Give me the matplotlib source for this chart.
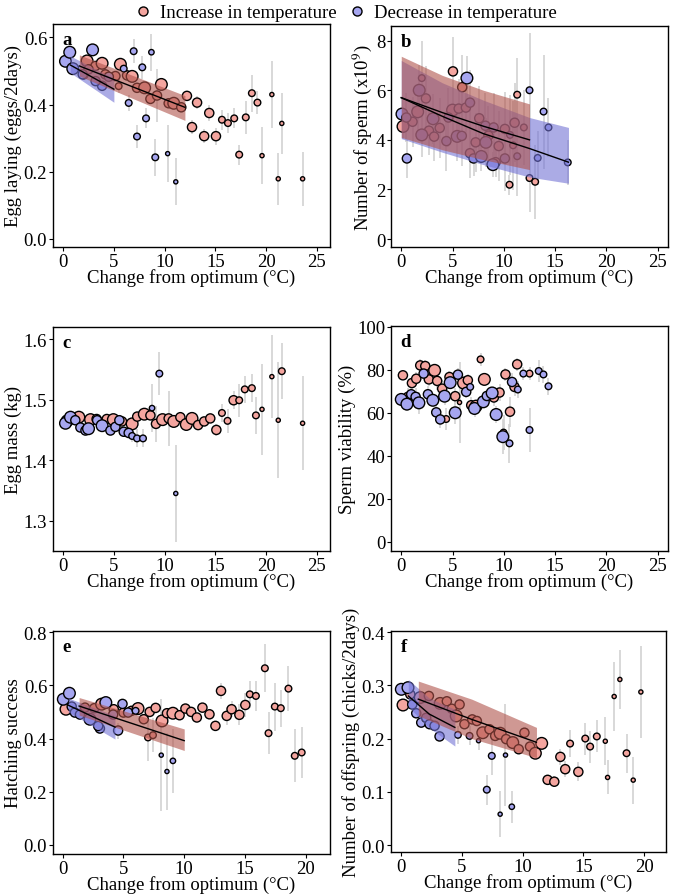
import numpy as np
import matplotlib
matplotlib.use("Agg")
import matplotlib.pyplot as plt
from matplotlib.lines import Line2D

plt.rcParams['font.family'] = ['Liberation Serif', 'DejaVu Serif']
plt.rcParams['mathtext.fontset'] = 'stix'
plt.rcParams['font.size'] = 13.5

# ---------------- data ----------------
# a: egg laying
a_inc_x = [2.36, 3.18, 3.84, 2.03, 2.5, 4.16, 5.15, 5.64, 6.3, 6.8, 5.47, 7.28, 8.03, 8.6, 9.25, 9.68, 10.4, 10.9, 11.64, 12.2,
           13.2, 12.7, 14.4, 13.9, 15.06, 15.65, 16.24, 16.86, 18.0, 17.35, 18.6, 19.15, 20.57, 19.6, 21.55, 21.2, 23.6]
a_inc_y = [0.53, 0.515, 0.523, 0.49, 0.505, 0.49, 0.485, 0.52, 0.487, 0.484, 0.455, 0.45, 0.45, 0.417, 0.427, 0.46, 0.404, 0.404, 0.392, 0.426,
           0.406, 0.333, 0.375, 0.306, 0.306, 0.355, 0.345, 0.359, 0.362, 0.251, 0.434, 0.406, 0.43, 0.248, 0.344, 0.179, 0.179]
a_inc_n = [4, 3, 4, 3, 3, 3, 3, 4, 3, 4, 2, 3, 4, 3, 3, 4, 3, 4, 3, 3,
           3, 3, 3, 3, 3, 2, 2, 2, 2, 2, 2, 2, 1, 1, 1, 1, 1]
a_inc_se = [0.01, 0.015, 0.01, 0.015, 0.015, 0.015, 0.015, 0.01, 0.015, 0.01, 0.02, 0.015, 0.01, 0.015, 0.08, 0.01, 0.015, 0.01, 0.015, 0.015,
            0.02, 0.02, 0.025, 0.02, 0.025, 0.03, 0.03, 0.03, 0.05, 0.03, 0.055, 0.035, 0.1, 0.085, 0.09, 0.078, 0.08]
a_dec_x = [0.23, 0.65, 2.9, 0.95, 1.93, 3.84, 4.5, 3.2, 5.97, 6.95, 7.8, 8.7, 6.46, 8.17, 7.28, 9.08, 10.3, 11.1]
a_dec_y = [0.529, 0.556, 0.563, 0.507, 0.49, 0.456, 0.483, 0.47, 0.507, 0.559, 0.511, 0.556, 0.405, 0.359, 0.305, 0.243, 0.254, 0.17]
a_dec_n = [4, 4, 4, 4, 3, 3, 3, 3, 2, 2, 2, 1.5, 2, 2, 2, 2, 1, 1]
a_dec_se = [0.01, 0.01, 0.01, 0.01, 0.015, 0.015, 0.015, 0.015, 0.02, 0.035, 0.035, 0.055, 0.025, 0.03, 0.035, 0.055, 0.085, 0.07]
a_fit_inc = ([1.6, 12.0], [0.515, 0.392], [0.485, 0.353], [0.548, 0.427])
a_fit_dec = ([0.7, 5.0], [0.518, 0.446], [0.495, 0.407], [0.545, 0.478])

# b: number of sperm
b_inc_x = [0.17, 5.04, 5.94, 11.3, 10.55, 12.5, 13.05, 9.2, 2.0, 1.6, 2.4, 2.7, 3.75, 5.0, 5.6, 6.3, 6.7, 7.25, 7.6, 8.5,
           9.5, 10.1, 10.9, 11.05, 11.95, 1.1, 3.2]
b_inc_y = [4.54, 6.76, 6.12, 5.82, 2.19, 2.46, 2.31, 3.1, 6.49, 5.13, 5.67, 4.37, 4.48, 5.2, 5.26, 5.3, 3.46, 3.9, 4.87, 4.17,
           3.75, 4.44, 3.78, 4.69, 4.5, 4.73, 4.13]
b_inc_n = [4, 3, 3, 2, 2, 2, 2, 3, 2, 4, 3, 3, 3, 4, 3, 3, 3, 3, 3, 3, 3, 3, 2, 3, 2, 3, 3]
b_inc_se = [0.5, 1.4, 1.3, 1.5, 0.4, 1.35, 1.5, 0.6, 1.5, 1.0, 1.3, 1.0, 1.2, 1.0, 1.2, 1.1, 1.0, 1.2, 1.3, 1.2,
            1.4, 1.5, 1.8, 1.6, 1.5, 1.0, 1.0]
b_dec_x = [0.07, 0.55, 6.4, 7.05, 7.8, 8.93, 12.5, 13.3, 13.87, 14.35, 16.23, 1.75, 2.0, 3.1, 4.4, 4.6, 5.45, 5.9, 6.7, 8.2,
           8.25, 9.0, 10.1, 10.6, 11.3, 0.5]
b_dec_y = [5.04, 3.25, 6.49, 3.25, 3.33, 3.0, 6.0, 3.27, 5.14, 4.5, 3.09, 6.0, 4.2, 4.85, 3.95, 4.9, 4.14, 4.16, 5.5, 4.57,
           3.9, 4.5, 3.25, 4.2, 3.34, 4.9]
b_dec_n = [4, 3, 4, 3, 4, 4, 2, 2, 2, 2, 2, 4, 4, 4, 3, 3, 4, 3, 3, 3, 4, 3, 3, 2, 2, 3]
b_dec_se = [0.6, 0.8, 0.9, 0.7, 0.6, 0.5, 2.3, 1.1, 2.3, 1.2, 0.9, 1.0, 0.9, 1.0, 1.2, 1.2, 1.0, 1.2, 1.3, 1.3,
            1.0, 1.4, 1.3, 1.6, 1.6, 1.0]
b_fit_inc = ([0, 4, 8, 12.5], [5.7, 5.1, 4.55, 4.0], [4.1, 3.6, 3.2, 2.8], [7.37, 6.6, 6.0, 5.45])
b_fit_dec = ([0, 4, 8, 12.5, 16.3], [5.7, 4.95, 4.25, 3.65, 3.1], [4.05, 3.5, 3.0, 2.5, 2.25], [7.2, 6.3, 5.6, 4.9, 4.5])

# c: egg mass
c_inc_x = [0.4, 1.55, 2.7, 3.3, 4.3, 4.95, 5.8, 6.8, 7.3, 8.0, 8.6, 9.15, 9.8, 10.4, 10.9, 11.55, 12.14, 12.7, 13.3, 13.9,
           14.5, 15.1, 15.65, 16.2, 16.8, 17.35, 17.9, 18.6, 19.0, 19.6, 20.57, 21.55, 21.2, 23.6]
c_inc_y = [1.465, 1.471, 1.467, 1.468, 1.468, 1.467, 1.464, 1.46, 1.472, 1.476, 1.474, 1.46, 1.467, 1.469, 1.464, 1.471, 1.459, 1.469, 1.458, 1.464,
           1.469, 1.45, 1.478, 1.465, 1.499, 1.499, 1.517, 1.519, 1.474, 1.484, 1.538, 1.547, 1.466, 1.461]
c_inc_n = [4, 4, 4, 3, 3, 4, 3, 4, 3, 4, 3, 3, 4, 3, 4, 3, 4, 4, 3, 3, 3, 3, 2, 2, 3, 2, 2, 2, 2, 1, 1, 2, 1, 1]
c_inc_se = [0.005, 0.005, 0.005, 0.006, 0.006, 0.005, 0.006, 0.005, 0.006, 0.005, 0.008, 0.03, 0.005, 0.045, 0.005, 0.008, 0.005, 0.005, 0.008, 0.008,
            0.008, 0.01, 0.015, 0.02, 0.015, 0.027, 0.022, 0.023, 0.03, 0.075, 0.068, 0.046, 0.096, 0.078]
c_dec_x = [0.23, 0.72, 1.2, 1.7, 2.2, 2.5, 3.35, 3.84, 4.66, 5.15, 5.54, 5.97, 6.46, 6.8, 7.28, 7.87, 8.76, 9.48, 11.1]
c_dec_y = [1.461, 1.471, 1.466, 1.454, 1.449, 1.452, 1.466, 1.457, 1.449, 1.455, 1.466, 1.447, 1.445, 1.44, 1.436, 1.436, 1.486, 1.543, 1.345]
c_dec_n = [4, 4, 3, 3, 3, 4, 3, 4, 3, 3, 3, 3, 3, 2, 2, 2, 1.5, 2, 1]
c_dec_se = [0.005, 0.005, 0.006, 0.006, 0.006, 0.005, 0.006, 0.005, 0.006, 0.006, 0.006, 0.008, 0.008, 0.01, 0.015, 0.015, 0.04, 0.035, 0.08]

# d: sperm viability
d_inc_x = [0.16, 0.65, 1.04, 1.46, 1.85, 2.34, 2.69, 3.25, 3.5, 3.99, 4.38, 4.7, 5.26, 5.68, 6.07, 6.49, 6.82, 7.3, 7.73, 8.1,
           9.03, 9.58, 10.16, 9.97, 10.6, 11.04, 11.3, 12.5]
d_inc_y = [77.4, 67.4, 73.8, 75.8, 82, 81.7, 75.5, 79.7, 74.8, 71.2, 57.1, 76.6, 67.7, 64.8, 73.8, 75.1, 63.5, 63.1, 84.8, 75.5,
           67.1, 69.4, 77.8, 50.8, 60.5, 72.0, 82.5, 78.2]
d_inc_n = [3, 3, 3, 3, 3, 3, 3, 4, 3, 3, 2, 3, 3, 1, 4, 3, 3, 4, 2, 4, 3, 3, 3, 2, 3, 3, 3, 2]
d_inc_se = [2, 4, 3, 3, 3, 3, 3, 3, 4, 4, 5, 3, 4, 19, 3, 3, 4, 3, 3, 3, 4, 4, 3, 8, 7, 4, 3, 3]
d_dec_x = [0, 0.55, 0.97, 1.4, 1.72, 2.18, 2.6, 3.08, 3.41, 3.8, 4.22, 4.77, 5.26, 5.52, 6.33, 6.72, 7.14, 8.0, 8.34, 8.86,
           9.25, 9.9, 10.55, 10.8, 11.36, 11.9, 13.4, 13.86, 14.35, 12.5]
d_dec_y = [66.2, 64, 68.6, 67.4, 64.6, 78.2, 68.6, 65.8, 60.2, 56.9, 67.7, 74, 60, 77.7, 69.7, 72, 62, 65.1, 67.8, 69.2,
           59.2, 48.9, 45.8, 74.3, 70.8, 78.2, 79.4, 77.8, 72.3, 52.0]
d_dec_n = [4, 4, 3, 3, 4, 3, 3, 4, 3, 3, 4, 4, 4, 3, 3, 2, 4, 4, 3, 4, 4, 4, 2, 3, 2, 2, 2, 2, 2, 2]
d_dec_se = [3, 3, 4, 4, 5, 3, 4, 3, 4, 4, 4, 3, 5, 3, 3, 3, 4, 3, 3, 3, 4, 8, 9, 4, 4, 3, 5, 4, 4, 10]

# e: hatching success
e_inc_x = [0.27, 1.83, 2.6, 3.2, 4.2, 5.0, 5.66, 6.2, 6.67, 7.02, 7.43, 7.16, 7.65, 8.17, 8.58, 9.07, 9.62, 10.1, 10.57, 11.04,
           11.5, 12.08, 12.57, 13.03, 13.5, 13.9, 14.54, 15.03, 15.4, 15.9, 16.64, 16.94, 17.46, 17.95, 18.58, 19.1, 19.67]
e_inc_y = [0.51, 0.516, 0.514, 0.529, 0.51, 0.4975, 0.504, 0.5125, 0.4725, 0.404, 0.4125, 0.5, 0.515, 0.466, 0.495, 0.495, 0.4875, 0.5125, 0.5, 0.479,
           0.516, 0.491, 0.4475, 0.579, 0.485, 0.51, 0.489, 0.526, 0.566, 0.56, 0.664, 0.42, 0.52, 0.514, 0.5875, 0.335, 0.3475]
e_inc_n = [4, 3, 3, 4, 3, 3, 3, 4, 3, 2, 2, 3, 3, 4, 3, 4, 3, 3, 3, 3, 3, 3, 3, 3, 3, 3, 3, 3, 2, 2, 2, 2, 2, 2, 2, 2, 2]
e_inc_se = [0.01, 0.012, 0.012, 0.01, 0.012, 0.012, 0.012, 0.01, 0.015, 0.09, 0.065, 0.012, 0.012, 0.01, 0.012, 0.01, 0.012, 0.012, 0.012, 0.012,
            0.012, 0.012, 0.015, 0.03, 0.035, 0.03, 0.04, 0.045, 0.05, 0.055, 0.09, 0.08, 0.09, 0.07, 0.085, 0.1, 0.095]
e_dec_x = [0.05, 0.55, 0.74, 1.0, 1.42, 2.24, 3.06, 3.55, 4.15, 4.56, 4.92, 5.38, 6.0, 8.11, 8.58, 9.07, 2.92]
e_dec_y = [0.5475, 0.57, 0.52, 0.4975, 0.49, 0.4725, 0.4375, 0.535, 0.49, 0.43, 0.53, 0.4975, 0.504, 0.3375, 0.276, 0.316, 0.447]
e_dec_n = [4, 4, 3, 3, 3, 4, 3, 4, 3, 3, 3, 3, 2, 1, 1, 1.5, 3]
e_dec_se = [0.01, 0.01, 0.01, 0.012, 0.012, 0.01, 0.012, 0.01, 0.012, 0.03, 0.012, 0.015, 0.02, 0.21, 0.145, 0.12, 0.012]
e_fit_inc = ([1.35, 10.0], [0.522, 0.392], [0.488, 0.355], [0.554, 0.436])
e_fit_dec = ([0.46, 4.3], [0.525, 0.443], [0.5, 0.398], [0.552, 0.486])

# f: number of offspring
f_inc_x = [0.14, 0.74, 1.56, 2.27, 3.2, 3.75, 4.16, 4.8, 4.52, 5.2, 5.84, 6.22, 6.71, 7.26, 7.73, 8.14, 8.63, 9.18, 9.67, 10.14,
           10.6, 11.04, 11.56, 12.05, 12.6, 13.1, 13.5, 13.9, 14.58, 15.15, 15.55, 16.1, 16.8, 16.99, 17.53, 18.0, 18.55, 19.1, 19.73]
f_inc_y = [0.263, 0.283, 0.277, 0.28, 0.266, 0.27, 0.256, 0.264, 0.2425, 0.227, 0.236, 0.233, 0.211, 0.2175, 0.205, 0.21, 0.199, 0.1925, 0.18, 0.211,
           0.185, 0.1725, 0.191, 0.1225, 0.119, 0.1656, 0.1425, 0.1906, 0.1375, 0.2, 0.185, 0.204, 0.195, 0.127, 0.279, 0.311, 0.1725, 0.122, 0.2875]
f_inc_n = [4, 3, 4, 3, 4, 3, 3, 3, 4, 3, 3, 3, 4, 3, 3, 4, 3, 4, 3, 3, 3, 4, 4, 3, 3, 3, 3, 2, 3, 2, 2, 2, 1, 1, 1, 1, 2, 1, 1]
f_inc_se = [0.006, 0.006, 0.006, 0.006, 0.006, 0.006, 0.006, 0.006, 0.006, 0.008, 0.008, 0.008, 0.008, 0.008, 0.008, 0.008, 0.008, 0.008, 0.008, 0.008,
            0.008, 0.008, 0.01, 0.01, 0.01, 0.015, 0.015, 0.025, 0.018, 0.03, 0.03, 0.03, 0.045, 0.032, 0.065, 0.055, 0.037, 0.044, 0.086]
f_dec_x = [0, 0.55, 0.9, 1.23, 1.64, 2.05, 2.33, 2.74, 3.15, 4.66, 5.62, 6.36, 7.04, 7.45, 8.14, 8.58, 9.1]
f_dec_y = [0.2925, 0.2956, 0.264, 0.2475, 0.23, 0.239, 0.227, 0.224, 0.204, 0.207, 0.205, 0.196, 0.104, 0.1675, 0.058, 0.169, 0.072]
f_dec_n = [4, 4, 3, 3, 3, 3, 3, 3, 3, 2, 2, 1, 2, 2, 1, 1, 1.5]
f_dec_se = [0.005, 0.005, 0.006, 0.006, 0.006, 0.006, 0.006, 0.006, 0.008, 0.017, 0.018, 0.017, 0.028, 0.035, 0.043, 0.095, 0.03]
f_fit_inc = ([1.4, 5.8, 11.13], [0.274, 0.236, 0.193], [0.243, 0.2, 0.164], [0.308, 0.274, 0.221])
f_fit_dec = ([0.575, 2.3, 4.41], [0.28, 0.246, 0.221], [0.26, 0.22, 0.186], [0.311, 0.276, 0.255])

# ---------------- style ----------------
PINK = '#f4a59f'
BLUE = '#a6a6f0'
RIB_PINK = '#b0534b'
RIB_BLUE = '#7373d4'
ERR = '#d2d2d2'


def msize(n):
    return (1.8 * np.asarray(n, dtype=float) + 1.2) ** 2


def draw(ax, inc, dec, fits=()):
    for x, y, n, se in (inc, dec):
        x, y, se = np.asarray(x), np.asarray(y), np.asarray(se)
        ax.vlines(x, y - se, y + se, color=ERR, lw=1.2, zorder=1)
    for (x, y, n, se), col in ((inc, PINK), (dec, BLUE)):
        ax.scatter(x, y, s=msize(n), c=col, edgecolors='black', linewidths=1.0, zorder=2)
    for (fx, fy, lo, hi), col in fits:
        ax.fill_between(fx, lo, hi, color=col, alpha=0.6, lw=0, zorder=3)
        ax.plot(fx, fy, color='black', lw=1.0, zorder=4)


fig = plt.figure(figsize=(6.73, 8.95), dpi=100)
W, H = 673, 895


def add_axes(l, t, r, b):
    return fig.add_axes([l / W, 1 - b / H, (r - l) / W, (b - t) / H])


axa = add_axes(53, 25, 330, 248)
axb = add_axes(391, 27, 668, 248)
axc = add_axes(53, 328, 330, 552)
axd = add_axes(391, 327, 668, 552)
axe = add_axes(53, 632, 330, 855)
axf = add_axes(391, 632, 666, 853)

draw(axa, (a_inc_x, a_inc_y, a_inc_n, a_inc_se), (a_dec_x, a_dec_y, a_dec_n, a_dec_se),
     ((a_fit_dec, RIB_BLUE), (a_fit_inc, RIB_PINK)))
draw(axb, (b_inc_x, b_inc_y, b_inc_n, b_inc_se), (b_dec_x, b_dec_y, b_dec_n, b_dec_se),
     ((b_fit_dec, RIB_BLUE), (b_fit_inc, RIB_PINK)))
draw(axc, (c_inc_x, c_inc_y, c_inc_n, c_inc_se), (c_dec_x, c_dec_y, c_dec_n, c_dec_se))
draw(axd, (d_inc_x, d_inc_y, d_inc_n, d_inc_se), (d_dec_x, d_dec_y, d_dec_n, d_dec_se))
draw(axe, (e_inc_x, e_inc_y, e_inc_n, e_inc_se), (e_dec_x, e_dec_y, e_dec_n, e_dec_se),
     ((e_fit_dec, RIB_BLUE), (e_fit_inc, RIB_PINK)))
draw(axf, (f_inc_x, f_inc_y, f_inc_n, f_inc_se), (f_dec_x, f_dec_y, f_dec_n, f_dec_se),
     ((f_fit_dec, RIB_BLUE), (f_fit_inc, RIB_PINK)))

setup = [
    (axa, 'a', 'Egg laying (eggs/2days)', (-1, 26.3), (-0.024, 0.64), [0, 0.2, 0.4, 0.6], '{:.1f}', [0, 5, 10, 15, 20, 25]),
    (axb, 'b', 'Number of sperm (x10$^{9}$)', (-1, 26.0), (-0.32, 8.59), [0, 2, 4, 6, 8], '{:.0f}', [0, 5, 10, 15, 20, 25]),
    (axc, 'c', 'Egg mass (kg)', (-1, 26.3), (1.25, 1.62), [1.3, 1.4, 1.5, 1.6], '{:.1f}', [0, 5, 10, 15, 20, 25]),
    (axd, 'd', 'Sperm viability (%)', (-1, 26.0), (-4.2, 100.3), [0, 20, 40, 60, 80, 100], '{:.0f}', [0, 5, 10, 15, 20, 25]),
    (axe, 'e', 'Hatching success', (-0.8, 22), (-0.034, 0.804), [0, 0.2, 0.4, 0.6, 0.8], '{:.1f}', [0, 5, 10, 15, 20]),
    (axf, 'f', 'Number of offspring (chicks/2days)', (-0.85, 21.8), (-0.013, 0.402), [0, 0.1, 0.2, 0.3, 0.4], '{:.1f}', [0, 5, 10, 15, 20]),
]
for ax, letter, ylab, xl, yl, yt, fmt, xt in setup:
    ax.set_xlim(*xl)
    ax.set_ylim(*yl)
    ax.set_yticks(yt)
    ax.set_yticklabels([fmt.format(v) for v in yt])
    ax.set_xticks(xt)
    ax.set_xlabel('Change from optimum (°C)', labelpad=-1)
    ax.set_ylabel(ylab, labelpad=1)
    ax.tick_params(direction='out', length=3, width=0.8, pad=1.2, labelsize=13.5)
    for sp in ax.spines.values():
        sp.set_linewidth(1.0)
    ax.text(0.035, 0.93, letter, transform=ax.transAxes, fontweight='bold', fontsize=13.5,
            ha='left', va='center')

handles = [
    Line2D([], [], marker='o', ls='none', markersize=6.5, markerfacecolor=PINK, markeredgecolor='black', markeredgewidth=1.0),
    Line2D([], [], marker='o', ls='none', markersize=6.5, markerfacecolor=BLUE, markeredgecolor='black', markeredgewidth=1.0),
]
fig.legend(handles, ['Increase in temperature', 'Decrease in temperature'], loc='upper center',
           bbox_to_anchor=(0.513, 1.013), ncol=2, frameon=False, fontsize=13.5,
           handletextpad=0.4, columnspacing=0.6, handlelength=1.0)

fig.savefig('out.png', dpi=100)
